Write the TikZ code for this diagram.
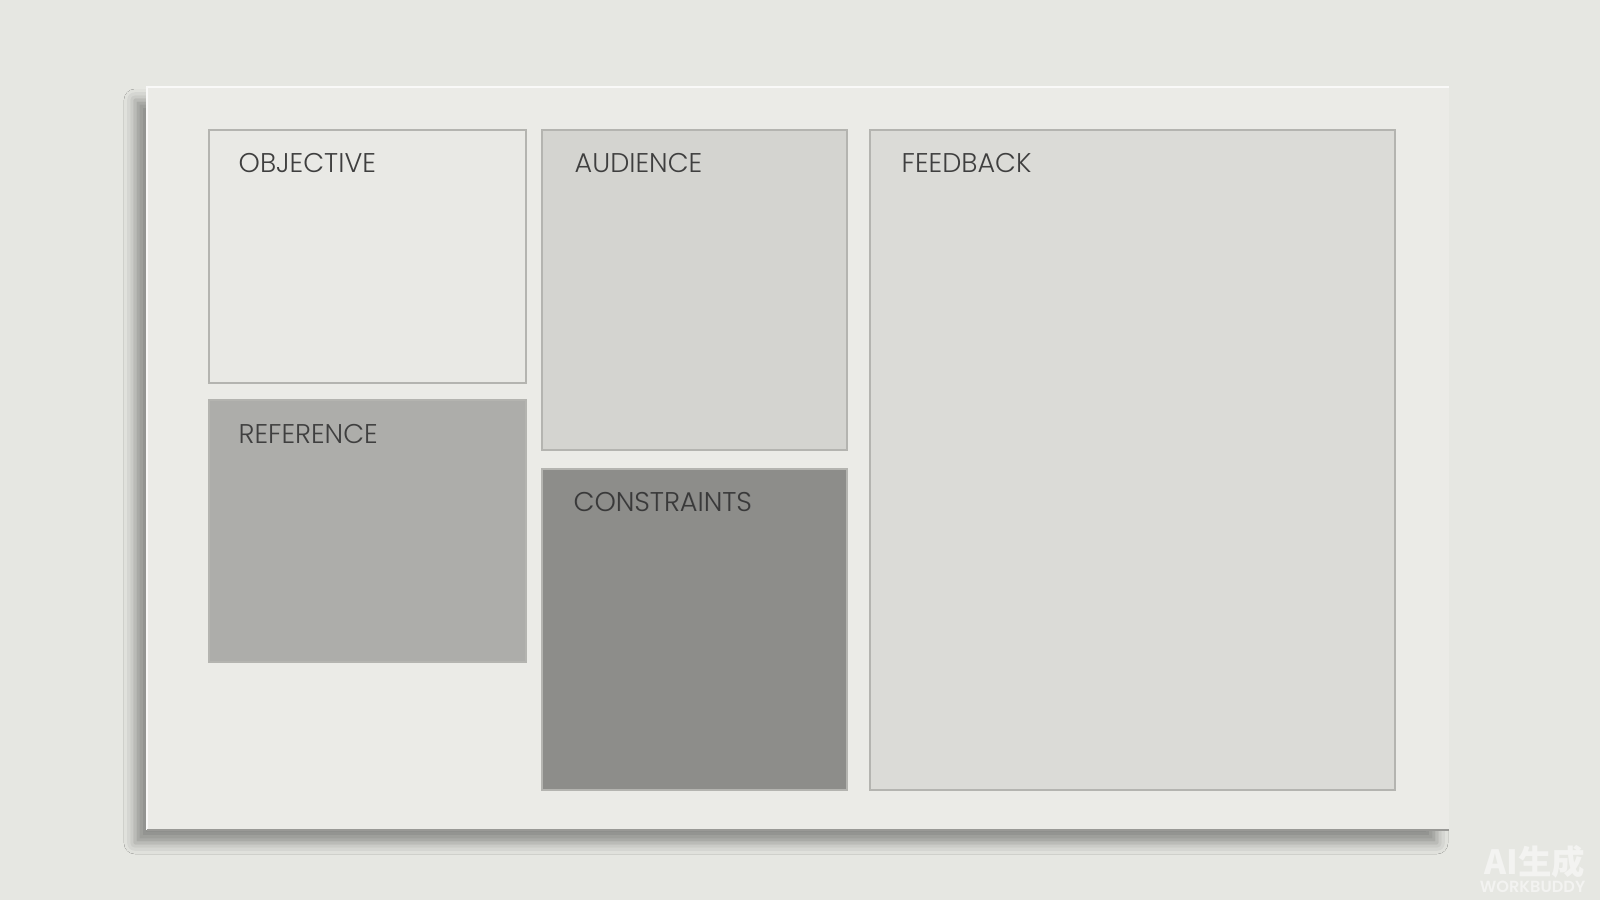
\documentclass[tikz,border=0pt]{standalone}
\usepackage{fontspec}
\setmainfont{Poppins}[UprightFont=* Light, BoldFont=* SemiBold]
\newfontfamily\cjk{Noto Sans CJK SC}
\usetikzlibrary{shadows.blur}
\definecolor{bgc}{HTML}{E6E7E2}
\definecolor{boardc}{HTML}{EBEBE7}
\definecolor{objc}{HTML}{E9E9E5}
\definecolor{audc}{HTML}{D4D4D0}
\definecolor{refc}{HTML}{ADADAA}
\definecolor{conc}{HTML}{8D8D8A}
\definecolor{fbc}{HTML}{DBDBD7}
\definecolor{txtc}{HTML}{3F3F3F}
\definecolor{edgec}{HTML}{B4B4B0}
\definecolor{wmc}{HTML}{F3F3F1}
\tikzset{
  cell/.style={draw=edgec, line width=0.35pt},
  lbl/.style={anchor=base west, inner sep=0pt, text=txtc, font=\fontsize{7.7}{9}\selectfont},
}
\begin{document}
\begin{tikzpicture}[x=0.01cm,y=-0.01cm]
\fill[bgc] (0,0) rectangle (1600,900);
\useasboundingbox (0,0) rectangle (1600,900);
% board
\path[fill=boardc, blur shadow={shadow xshift=-0.12cm, shadow yshift=-0.13cm, shadow blur radius=0.11cm, shadow opacity=38}] (147,87) rectangle (1449,830);
\draw[white!70!boardc, line width=0.6pt] (147,830) -- (147,87) -- (1449,87);
\draw[black!35!boardc, line width=0.5pt] (147,830) -- (1449,830);
% cells
\path[cell, fill=objc] (209,130) coordinate (o1) rectangle (526,383) coordinate (o2);
\path[cell, fill=refc] (209,400) coordinate (r1) rectangle (526,662) coordinate (r2);
\path[cell, fill=audc] (542,130) coordinate (a1) rectangle (847,450) coordinate (a2);
\path[cell, fill=conc] (542,469) coordinate (c1) rectangle (847,790) coordinate (c2);
\path[cell, fill=fbc] (870,130) coordinate (f1) rectangle (1395,790) coordinate (f2);
% labels
\node[lbl] (lo) at (238,172) {OBJECTIVE};
\node[lbl] (lr) at (238,443) {REFERENCE};
\node[lbl] (la) at (574,172) {AUDIENCE};
\node[lbl, text=white!35!txtc] at (573.6,511.6) {CONSTRAINTS};
\node[lbl, text=txtc!90!black] (lc) at (573,511) {CONSTRAINTS};
\node[lbl] (lf) at (901,172) {FEEDBACK};
% watermark
\node[anchor=base east, inner sep=0pt, text=wmc, font=\cjk\bfseries\fontsize{9.5}{11}\selectfont] (wm1) at (1586,874) {AI生成};
\node[anchor=base east, inner sep=0pt, text=wmc, font=\bfseries\fontsize{4.6}{5}\selectfont] (wm2) at (1586,892) {WORKBUDDY};
\end{tikzpicture}
\end{document}
